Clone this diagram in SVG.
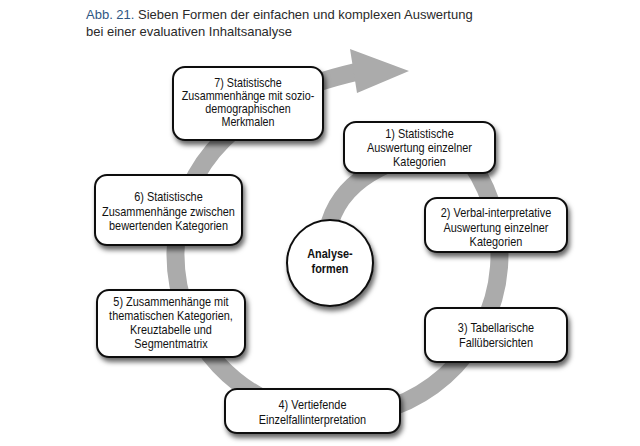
<svg xmlns="http://www.w3.org/2000/svg" width="640" height="446" viewBox="0 0 640 446">
<style>
.box{fill:#fff;stroke:#111;stroke-width:2;filter:url(#sh)}
.t{font-family:"Liberation Sans",Arial,sans-serif;font-size:13px;fill:#111;text-anchor:middle;dominant-baseline:central}
.s{font-size:12.5px}
.b{font-weight:bold}
.ttl{font-family:"Liberation Sans",Arial,sans-serif;font-size:13px;fill:#2a2a2a}
</style>
<defs>
<filter id="sh" x="-20%" y="-20%" width="140%" height="150%">
<feDropShadow dx="2" dy="4" stdDeviation="2.5" flood-color="#000" flood-opacity="0.6"/>
</filter>
</defs>
<text class="ttl" x="86" y="19"><tspan fill="#2f5683">Abb. 21.</tspan> Sieben Formen der einfachen und komplexen Auswertung</text>
<text class="ttl" x="86" y="36">bei einer evaluativen Inhaltsanalyse</text>
<g id="connectors">
<path d="M 330 222 C 345 175 400 150 462 151 A 162 162 0 1 1 223 140 C 260 103 300 85 356 72" fill="none" stroke="#ababab" stroke-width="18"/>
<polygon points="350,49 409,71 357,93" fill="#ababab"/>
</g>
<g id="center">
<circle cx="330" cy="263" r="43" class="box"/>
<g transform="matrix(0.84 0 0 1 52.8 0)">
<text class="t b" x="330" y="254">Analyse-</text>
<text class="t b" x="330" y="269">formen</text>
</g>
</g>
<g id="n7">
<rect x="173" y="67" width="150" height="73" rx="12" class="box"/>
<g transform="matrix(0.86 0 0 1 34.72 0)">
<text class="t s" x="248" y="82">7) Statistische</text>
<text class="t s" x="248" y="95">Zusammenhänge mit sozio-</text>
<text class="t s" x="248" y="108">demographischen</text>
<text class="t s" x="248" y="121">Merkmalen</text>
</g>
</g>
<g id="n1">
<rect x="344" y="122" width="151" height="51" rx="12" class="box"/>
<g transform="matrix(0.84 0 0 1 67.12 0)">
<text class="t" x="419.5" y="133.5">1) Statistische</text>
<text class="t" x="419.5" y="147.5">Auswertung einzelner</text>
<text class="t" x="419.5" y="161.5">Kategorien</text>
</g>
</g>
<g id="n6">
<rect x="95" y="175" width="147" height="70" rx="12" class="box"/>
<g transform="matrix(0.84 0 0 1 26.96 0)">
<text class="t" x="168.5" y="197">6) Statistische</text>
<text class="t" x="168.5" y="211.5">Zusammenhänge zwischen</text>
<text class="t" x="168.5" y="226">bewertenden Kategorien</text>
</g>
</g>
<g id="n2">
<rect x="425" y="198" width="142" height="54" rx="12" class="box"/>
<g transform="matrix(0.84 0 0 1 79.36 0)">
<text class="t" x="496" y="213">2) Verbal-interpretative</text>
<text class="t" x="496" y="227.5">Auswertung einzelner</text>
<text class="t" x="496" y="242">Kategorien</text>
</g>
</g>
<g id="n5">
<rect x="97" y="290" width="148" height="67" rx="12" class="box"/>
<g transform="matrix(0.84 0 0 1 27.36 0)">
<text class="t" x="171" y="302">5) Zusammenhänge mit</text>
<text class="t" x="171" y="316">thematischen Kategorien,</text>
<text class="t" x="171" y="330">Kreuztabelle und</text>
<text class="t" x="171" y="344">Segmentmatrix</text>
</g>
</g>
<g id="n3">
<rect x="425" y="308" width="142" height="54" rx="12" class="box"/>
<g transform="matrix(0.84 0 0 1 79.36 0)">
<text class="t" x="496" y="328">3) Tabellarische</text>
<text class="t" x="496" y="343">Fallübersichten</text>
</g>
</g>
<g id="n4">
<rect x="225" y="389" width="175" height="44" rx="12" class="box"/>
<g transform="matrix(0.84 0 0 1 50 0)">
<text class="t" x="312.5" y="405">4) Vertiefende</text>
<text class="t" x="312.5" y="420">Einzelfallinterpretation</text>
</g>
</g>
</svg>
